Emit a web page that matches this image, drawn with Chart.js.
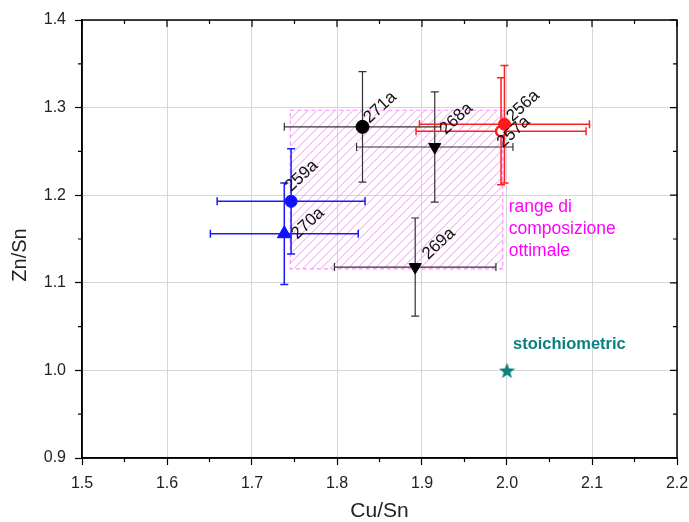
<!DOCTYPE html>
<html><head><meta charset="utf-8">
<script src="https://cdn.jsdelivr.net/npm/chart.js@4/dist/chart.umd.min.js"></script>
<style>html,body{margin:0;padding:0;background:#fff}#wrap{width:689px;height:522px}</style>
</head><body><div id="wrap"><canvas id="c" width="689" height="522"></canvas></div>
<script>
// ---- data ----
const sampleNames = ['271a','268a','256a','257a','259a','270a','269a'];
const cuSn    = [1.830, 1.915, 1.997, 1.993, 1.746, 1.738, 1.892];
const znSn    = [1.278, 1.255, 1.281, 1.273, 1.193, 1.156, 1.118];
const cuSnErr = [0.092, 0.092, 0.100, 0.100, 0.087, 0.087, 0.095];
const znSnErr = [0.063, 0.063, 0.067, 0.061, 0.060, 0.058, 0.056];
const stoichCu = [2.0];
const stoichZn = [1.0];
const rangeCu = [1.745, 1.995];
const rangeZn = [1.116, 1.297];
const rangeText = ['range di', 'composizione', 'ottimale'];
const stoichText = 'stoichiometric';
const xTitle = 'Cu/Sn';
const yTitle = 'Zn/Sn';
const xTickValues = [1.5,1.6,1.7,1.8,1.9,2.0,2.1,2.2];
const yTickValues = [0.9,1.0,1.1,1.2,1.3,1.4];

// ---- styles (not data) ----
const FONT = '"Liberation Sans", Arial, sans-serif';
const styles = {
  '271a': {color:'#000', bar:'#333', shape:'circle', r:6.5, rot:0},
  '268a': {color:'#000', bar:'#333', shape:'triangle', r:7, rot:180},
  '256a': {color:'#ff1a1a', bar:'#ff2020', shape:'circle', r:6, rot:0},
  '257a': {color:'#ff1a1a', bar:'#ff2020', shape:'circle', r:5, rot:0, open:true},
  '259a': {color:'#1010ff', bar:'#1a1aff', shape:'circle', r:6, rot:0},
  '270a': {color:'#1010ff', bar:'#1a1aff', shape:'triangle', r:8, rot:0},
  '269a': {color:'#000', bar:'#333', shape:'triangle', r:7, rot:180}
};
const labelOffsets = {
  '271a':[7,-3], '268a':[11,-12], '256a':[8,-2], '257a':[2,17],
  '259a':[0,-9], '270a':[13,6], '269a':[13,-7]
};

function makeStar(size, color){
  const c = document.createElement('canvas'); c.width = size; c.height = size;
  const g = c.getContext('2d'); const cx=size/2, cy=size/2+0.8, R=size/2, r=R*0.42;
  g.beginPath();
  for(let i=0;i<10;i++){const a=-Math.PI/2+i*Math.PI/5; const rr=i%2?r:R; g.lineTo(cx+rr*Math.cos(a), cy+rr*Math.sin(a));}
  g.closePath(); g.fillStyle=color; g.fill(); return c;
}
const starImg = makeStar(17, '#0a8080');

const datasets = sampleNames.map((n,i)=>{
  const s = styles[n];
  return {
    label:n, data:[{x:cuSn[i], y:znSn[i]}],
    pointStyle:s.shape, rotation:s.rot, pointRadius:s.r,
    backgroundColor: s.open ? '#fff' : s.color,
    borderColor: s.color, borderWidth: s.open ? 2.5 : 1
  };
});
datasets.push({label:'stoichiometric', data:stoichCu.map((v,i)=>({x:v,y:stoichZn[i]})), pointStyle:starImg, pointRadius:8});

const errPlugin = {
  id:'err',
  beforeDatasetsDraw(chart){
    const {ctx, scales:{x,y}} = chart;
    // hatched range
    const x0=x.getPixelForValue(rangeCu[0]), x1=x.getPixelForValue(rangeCu[1]);
    const y0=y.getPixelForValue(rangeZn[1]), y1=y.getPixelForValue(rangeZn[0]);
    ctx.save();
    ctx.beginPath(); ctx.rect(x0,y0,x1-x0,y1-y0); ctx.clip();
    ctx.strokeStyle='#f394f3'; ctx.lineWidth=1;
    const h=y1-y0;
    for(let s=x0-h; s<x1+10; s+=9){ctx.beginPath(); ctx.moveTo(s,y1); ctx.lineTo(s+h,y0); ctx.stroke();}
    ctx.restore();
    ctx.save(); ctx.setLineDash([4,3]); ctx.strokeStyle='#ff8cff'; ctx.lineWidth=1.2;
    ctx.strokeRect(x0,y0,x1-x0,y1-y0); ctx.restore();
    // error bars
    ctx.save();
    sampleNames.forEach((n,i)=>{
      const s=styles[n];
      const px=x.getPixelForValue(cuSn[i]), py=y.getPixelForValue(znSn[i]);
      const xl=x.getPixelForValue(cuSn[i]-cuSnErr[i]), xr=x.getPixelForValue(cuSn[i]+cuSnErr[i]);
      const yt=y.getPixelForValue(znSn[i]+znSnErr[i]), yb=y.getPixelForValue(znSn[i]-znSnErr[i]);
      ctx.strokeStyle=s.bar; ctx.lineWidth = s.color==='#000'?1.2:1.5;
      const c=4;
      ctx.beginPath();
      ctx.moveTo(xl,py); ctx.lineTo(xr,py);
      ctx.moveTo(xl,py-c); ctx.lineTo(xl,py+c);
      ctx.moveTo(xr,py-c); ctx.lineTo(xr,py+c);
      ctx.moveTo(px,yt); ctx.lineTo(px,yb);
      ctx.moveTo(px-c,yt); ctx.lineTo(px+c,yt);
      ctx.moveTo(px-c,yb); ctx.lineTo(px+c,yb);
      ctx.stroke();
    });
    ctx.restore();
  },
  afterDatasetsDraw(chart){
    const {ctx, scales:{x,y}, chartArea:a} = chart;
    ctx.save();
    ctx.fillStyle='#111'; ctx.font='17px '+FONT;
    ctx.textAlign='left'; ctx.textBaseline='alphabetic';
    sampleNames.forEach((n,i)=>{
      const px=x.getPixelForValue(cuSn[i]), py=y.getPixelForValue(znSn[i]);
      const o=labelOffsets[n];
      ctx.save(); ctx.translate(px+o[0], py+o[1]); ctx.rotate(-43*Math.PI/180);
      ctx.fillText(n,0,0); ctx.restore();
    });
    // range text
    const rx=x.getPixelForValue(rangeCu[1])+6, ry=y.getPixelForValue(1.186);
    ctx.fillStyle='#ff00ff'; ctx.font='17.5px '+FONT; ctx.textBaseline='middle';
    rangeText.forEach((t,k)=>ctx.fillText(t, rx, ry+k*22));
    // stoichiometric text
    const sx=x.getPixelForValue(stoichCu[0])+6, sy=y.getPixelForValue(stoichZn[0])-26;
    ctx.fillStyle='#0a8080'; ctx.font='bold 16.5px '+FONT;
    ctx.fillText(stoichText, sx, sy);
    // frame
    ctx.strokeStyle='#000'; ctx.lineWidth=1.5;
    ctx.strokeRect(a.left, a.top, a.right-a.left, a.bottom-a.top);
    // minor ticks (outward on bottom/left) and inward ticks on top/right
    ctx.lineWidth=1.2; ctx.beginPath();
    for(let k=0;k<xTickValues.length-1;k++){const px=x.getPixelForValue((xTickValues[k]+xTickValues[k+1])/2);
      ctx.moveTo(px,a.bottom); ctx.lineTo(px,a.bottom+4); ctx.moveTo(px,a.top); ctx.lineTo(px,a.top+4);}
    for(let k=0;k<yTickValues.length-1;k++){const py=y.getPixelForValue((yTickValues[k]+yTickValues[k+1])/2);
      ctx.moveTo(a.left,py); ctx.lineTo(a.left-4,py); ctx.moveTo(a.right,py); ctx.lineTo(a.right-4,py);}
    xTickValues.forEach(v=>{const px=x.getPixelForValue(v); ctx.moveTo(px,a.top); ctx.lineTo(px,a.top+7);});
    yTickValues.forEach(v=>{const py=y.getPixelForValue(v); ctx.moveTo(a.right,py); ctx.lineTo(a.right-7,py);});
    ctx.stroke();
    // axis titles
    ctx.fillStyle='#222'; ctx.font='21px '+FONT; ctx.textAlign='center'; ctx.textBaseline='middle';
    ctx.fillText(xTitle, (a.left+a.right)/2, 511);
    ctx.save(); ctx.translate(20, 255); ctx.rotate(-Math.PI/2); ctx.font='20px '+FONT;
    ctx.fillText(yTitle, 0, 0); ctx.restore();
    ctx.restore();
  }
};

const tickFont = {family:FONT, size:16};
new Chart(document.getElementById('c'), {
  type:'scatter',
  data:{datasets},
  options:{
    responsive:false, animation:false, devicePixelRatio:1,
    layout:{padding:{top:20, right:12, left:0, bottom:0}},
    plugins:{legend:{display:false}, tooltip:{enabled:false}},
    scales:{
      x:{type:'linear', min:1.5, max:2.2,
        afterBuildTicks:s=>{s.ticks=xTickValues.map(v=>({value:v}));},
        ticks:{font:tickFont, color:'#222', padding:9, callback:v=>Number(v).toFixed(1)},
        grid:{color:'#d6d6d6', lineWidth:1, tickColor:'#000', tickLength:7, tickWidth:1.2},
        border:{color:'#000', width:1.5},
        title:{display:false},
        afterFit:s=>{s.height=64; s.paddingLeft=0; s.paddingRight=0;}
      },
      y:{type:'linear', min:0.9, max:1.4,
        afterBuildTicks:s=>{s.ticks=yTickValues.map(v=>({value:v}));},
        ticks:{font:tickFont, color:'#222', padding:9, callback:v=>Number(v).toFixed(1)},
        grid:{color:'#d6d6d6', lineWidth:1, tickColor:'#000', tickLength:7, tickWidth:1.2},
        border:{color:'#000', width:1.5},
        title:{display:false},
        afterFit:s=>{s.width=82; s.paddingTop=0; s.paddingBottom=0;}
      }
    }
  },
  plugins:[errPlugin]
});
</script></body></html>
